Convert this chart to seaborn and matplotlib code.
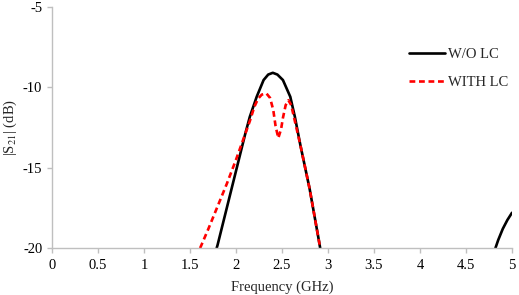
import matplotlib
matplotlib.use("Agg")
import matplotlib.pyplot as plt
import numpy as np
import pandas as pd
import seaborn as sns

# values
freq_wo = [1.79, 1.8, 1.9, 2.0, 2.1, 2.15, 2.225, 2.3, 2.35, 2.4, 2.45, 2.51, 2.59, 2.64, 2.7, 2.8, 2.9, 2.915]
s21_wo = [-20.0, -19.8, -17.5, -15.2, -12.9, -11.83, -10.58, -9.54, -9.2, -9.09, -9.2, -9.54, -10.58, -11.83,
          -13.6, -16.3, -19.5, -20.0]

freq_wo_hi = [4.82, 4.85, 4.9, 4.95, 5.0]
s21_wo_hi = [-20.0, -19.5, -18.8, -18.25, -17.8]

freq_lc = [1.61, 1.7, 1.8, 1.9, 2.0, 2.1, 2.15, 2.2, 2.24, 2.28, 2.33, 2.37, 2.405, 2.43, 2.46,
           2.49, 2.51, 2.54, 2.57, 2.6, 2.7, 2.8, 2.9, 2.915]
s21_lc = [-20.0, -18.8, -17.4, -16.0, -14.5, -12.9, -12.1, -11.2, -10.7, -10.45, -10.37, -10.65, -11.4, -12.4, -13.15,
          -12.6, -11.9, -11.1, -10.8, -11.1, -13.6, -16.3, -19.5, -20.0]

x_ticks = [0, 0.5, 1, 1.5, 2, 2.5, 3, 3.5, 4, 4.5, 5]
y_ticks = [-5, -10, -15, -20]

sns.set_theme(style="white")
plt.rcParams['font.family'] = ['Liberation Serif', 'DejaVu Serif']
plt.rcParams['mathtext.fontset'] = 'stix'
plt.rcParams['axes.unicode_minus'] = False

fig = plt.figure(figsize=(5.19, 2.95), dpi=100)
ax = fig.add_axes([0.1002, 0.159, 0.8863, 0.817])

df_wo = pd.DataFrame({'freq': freq_wo, 's21': s21_wo})
df_wo_hi = pd.DataFrame({'freq': freq_wo_hi, 's21': s21_wo_hi})
df_lc = pd.DataFrame({'freq': freq_lc, 's21': s21_lc})

sns.lineplot(data=df_wo, x='freq', y='s21', color='black', lw=1.9, sort=False, ax=ax, label='W/O LC')
sns.lineplot(data=df_wo_hi, x='freq', y='s21', color='black', lw=1.9, sort=False, ax=ax)
sns.lineplot(data=df_lc, x='freq', y='s21', color='#FF0000', lw=1.9, sort=False, ax=ax, label='WITH LC')
ax.lines[-1].set_dashes((2.2, 1.4))

ax.set_xlim(0, 5)
ax.set_ylim(-20, -5)
ax.set_xticks(x_ticks)
ax.set_xticklabels([f'{t:g}' for t in x_ticks])
ax.set_yticks(y_ticks)
ax.set_yticklabels([f'{t:g}' for t in y_ticks])

for side in ['top', 'right']:
    ax.spines[side].set_visible(False)
for side in ['left', 'bottom']:
    ax.spines[side].set_color('#BFBFBF')
    ax.spines[side].set_linewidth(1.0)
ax.tick_params(axis='both', which='major', direction='out', length=3.5, width=1.0, color='#BFBFBF',
               labelsize=10.5, labelcolor='black', left=True, bottom=True)
ax.tick_params(axis='x', pad=4.5)
ax.tick_params(axis='y', pad=3.5)

ax.set_xlabel('Frequency (GHz)', fontsize=10.5, labelpad=6)
ax.set_ylabel('|S$_{21}$| (dB)', fontsize=10.5, labelpad=3)

leg = ax.legend(loc='upper right', bbox_to_anchor=(1.02, 0.885), frameon=False, fontsize=10.5,
                handlelength=2.45, handletextpad=0.2, labelspacing=1.0)
for h in leg.get_lines():
    h.set_linewidth(1.9)
ax.grid(False)

fig.savefig('out.png', dpi=100)
